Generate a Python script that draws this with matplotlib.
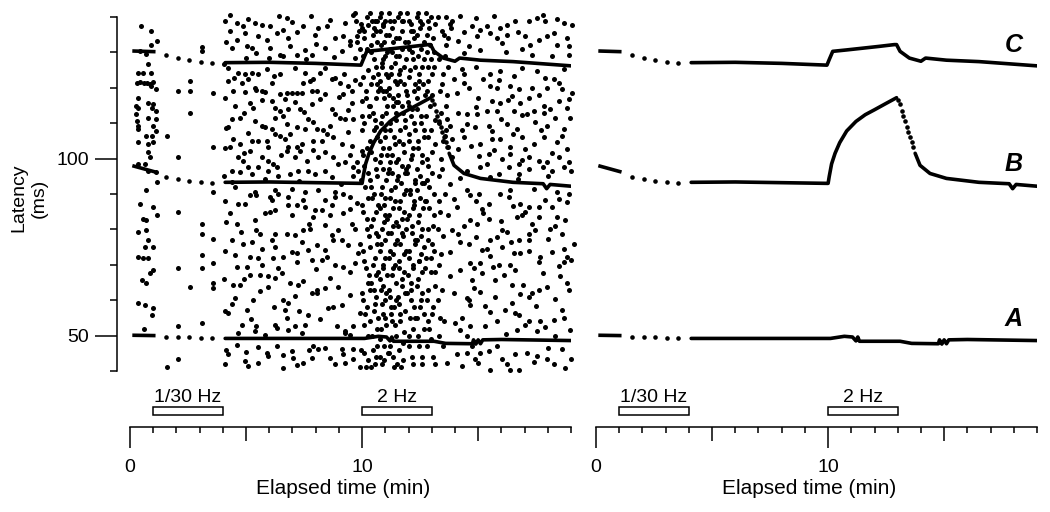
import matplotlib
matplotlib.use("Agg")
import matplotlib.pyplot as plt
from matplotlib.patches import Rectangle
from matplotlib.ticker import FixedLocator, MultipleLocator, NullFormatter

plt.rcParams['font.family'] = ['Liberation Sans', 'DejaVu Sans']

# ---- latency traces (min, ms) ----
start_t = [0.1, 1.1]
slow_t = [1.55, 2.05, 2.55, 3.05, 3.55]

a_start_ms = [50.1, 50.0]
a_slow_ms = [49.6, 49.5, 49.5, 49.4, 49.4]
a_t = [4.1, 10.1, 10.7, 11.05, 11.2, 11.28, 11.35, 13.1, 13.6, 14.75, 14.8, 14.9, 15.0, 15.1, 15.2, 16.0, 19.0]
a_ms = [49.2, 49.2, 49.8, 49.6, 48.5, 49.6, 48.4, 48.4, 47.8, 47.7, 48.8, 47.6, 48.8, 47.7, 48.8, 48.9, 48.6]

b_start_ms = [98.0, 96.2]
b_slow_ms = [94.7, 94.1, 93.8, 93.3, 93.1]
b_t = [4.1, 6.0, 8.0, 10.0, 10.05, 10.15, 10.3, 10.5, 10.8, 11.2, 11.6, 12.0, 12.5, 12.95]
b_ms = [93.3, 93.4, 93.2, 93.0, 95.0, 98.5, 101.5, 104.5, 107.8, 110.5, 112.4, 113.8, 115.6, 117.2]
b_decay_t = [13.03, 13.1, 13.17, 13.24, 13.32, 13.39, 13.46, 13.53, 13.6, 13.67]
b_decay_ms = [116.6, 115.4, 113.5, 112.1, 110.7, 108.8, 107.4, 106.0, 104.6, 103.2]
b_tail_t = [13.75, 13.96, 14.39, 15.1, 16.5, 17.8, 17.95, 18.1, 19.0]
b_tail_ms = [101.5, 98.1, 95.8, 94.4, 93.3, 92.9, 91.5, 92.7, 92.2]

c_start_ms = [130.4, 130.2]
c_slow_ms = [129.2, 128.4, 127.8, 127.2, 126.9]
c_t = [4.1, 6.0, 8.0, 9.95, 10.05, 10.2, 10.8, 11.5, 12.2, 12.85, 12.95, 13.1, 13.5, 14.0, 14.2, 15.1, 16.5, 19.0]
c_ms = [127.1, 127.2, 126.9, 126.4, 128.0, 130.3, 130.7, 131.2, 131.7, 132.2, 132.2, 130.3, 128.4, 127.5, 128.4, 127.8, 127.4, 126.2]

# ---- individual spike latencies (min, ms) ----
dots_first_min = [
    (0.47, 137.4), (0.9, 136), (1.17, 133.1), (0.9, 132.2), (0.78, 126.6), (0.35, 124.2), (0.57, 124.2),
    (0.9, 124.2), (0.9, 120.5), (1.1, 119.6), (0.35, 117.2), (0.28, 114.9), (0.35, 114.4), (0.78, 115.8),
    (1.0, 115.4), (0.93, 114.4), (1.1, 113.5), (0.28, 112.5), (0.78, 111.6), (1.1, 111.1), (0.35, 109.3),
    (0.35, 108.3), (1.0, 109.3), (0.71, 106.5), (1.1, 107.9), (0.93, 106.5), (0.35, 104.6), (0.78, 104.1),
    (1.0, 104.6), (0.78, 101.8), (0.85, 100.4), (0.35, 98.5), (0.64, 98.5), (0.78, 96.6), (1.1, 96.2),
    (1.17, 93.4), (0.71, 91.0), (0.42, 87.3), (1.0, 86.3), (1.17, 84.0), (0.57, 83.0), (0.71, 82.6),
    (0.35, 79.3), (0.71, 79.8), (0.78, 77.0), (1.0, 75.1), (0.64, 75.1), (0.35, 72.3), (0.57, 71.8),
    (0.78, 71.8), (1.0, 68.5), (0.85, 67.6), (0.5, 65.7), (0.71, 64.8), (0.35, 59.2), (0.64, 58.7),
    (1.0, 57.8), (0.93, 55.9), (0.3, 121.4), (0.45, 121.5), (0.6, 121.3), (0.75, 121.4), (0.85, 121.2),
    (1.0, 121.5), (0.45, 130.5), (0.7, 129.5), (0.6, 52.0), (0.3, 110.5),
]
dots_slow = [
    (1.58, 106.5), (1.58, 41.0), (2.08, 119.1), (2.08, 100.4), (2.08, 84.9), (2.08, 69.0), (2.08, 52.6),
    (2.08, 43.3), (2.59, 121.9), (2.59, 119.1), (2.59, 113.0), (2.59, 63.8), (3.09, 130.5), (3.09, 131.6),
    (3.09, 81.6), (3.09, 78.8), (3.09, 72.7), (3.09, 69.0), (3.09, 53.6), (3.59, 118.6), (3.59, 103.2),
    (3.59, 90.5), (3.59, 77.4), (3.59, 70.4), (3.59, 64.8), (3.59, 63.4),
]
dots_4_10_upper = [
    (4.1, 139), (4.15, 133), (4.05, 126.6), (4.1, 117), (4.15, 108.7), (4.1, 103), (4.05, 95),
    (4.59, 138.3), (4.88, 137.4), (5.38, 138.3), (5.67, 137.8), (6.03, 137.4), (6.75, 139.7), (7.47, 137.4),
    (8.11, 136.9), (9.26, 138.3), (9.98, 136.9), (10.27, 137.8), (10.63, 138.8), (10.91, 137.4),
    (4.31, 136.0), (4.95, 135.5), (5.53, 134.5), (6.32, 135.5), (6.6, 136.4), (6.82, 134.1), (7.97, 135.0),
    (8.83, 134.1), (9.19, 134.6), (9.48, 133.1),
    (4.38, 131.3), (5.02, 131.7), (5.24, 131.3), (5.45, 129.9), (6.03, 131.3), (6.46, 129.4), (6.6, 128.9),
    (7.18, 129.4), (7.54, 130.8), (7.83, 129.4), (8.4, 131.3), (9.12, 130.3), (9.48, 132.2), (9.69, 128.5),
    (4.23, 125.7), (4.66, 124.2), (4.95, 123.8), (5.24, 124.2), (5.53, 123.8), (5.89, 125.2), (6.46, 123.8),
    (7.11, 125.7), (7.54, 124.2), (8.18, 124.2), (8.4, 125.7), (8.83, 122.8),
    (4.23, 121.9), (4.81, 121.4), (5.1, 122.4), (5.38, 120.0), (5.67, 119.1), (6.1, 121.4), (6.75, 118.6),
    (7.18, 118.6), (7.47, 121.4), (7.75, 121.9), (8.04, 119.1), (8.69, 122.4), (9.05, 121.4), (9.41, 120.5),
    (9.55, 119.1), (4.45, 119.1), (4.95, 118.8), (5.45, 119.3), (5.81, 118.9), (6.1, 116.3), (6.46, 118.2),
    (6.68, 116.8), (6.96, 118.6), (7.39, 118.6), (7.83, 119.1), (8.4, 118.2), (9.19, 118.2),
    (4.52, 114.9), (5.17, 115.8), (5.31, 114.4), (6.25, 114.4), (6.46, 113.5), (6.82, 114.0), (7.32, 114.0),
    (7.83, 115.4), (8.69, 114.0), (8.83, 112.5), (9.55, 115.8), (9.98, 116.3),
    (4.38, 111.1), (4.74, 111.6), (5.38, 110.7), (5.67, 109.3), (6.25, 111.6), (6.75, 109.7), (7.18, 108.8),
    (7.68, 111.1), (7.9, 110.2), (8.04, 108.3), (8.62, 109.3), (9.05, 111.6), (9.26, 111.1), (9.62, 111.1),
    (9.98, 112.1), (4.23, 108.8), (5.81, 108.8), (6.1, 108.3), (7.54, 108.3),
    (4.31, 103.2), (4.45, 105.5), (4.74, 104.1), (5.24, 105.1), (5.53, 105.1), (5.89, 105.1), (5.96, 103.2),
    (6.25, 106.9), (6.46, 106.5), (6.68, 105.5), (6.82, 103.2), (7.18, 103.2), (7.39, 104.1), (7.9, 105.1),
    (8.26, 105.1), (8.47, 106.9), (8.76, 106.0), (9.12, 104.1), (9.55, 103.7), (9.98, 102.2),
    (4.66, 100.4), (4.88, 99.4), (5.17, 102.2), (5.67, 100.4), (5.96, 99.4), (6.17, 98.5), (6.32, 97.6),
    (6.75, 102.2), (7.11, 100.4), (7.32, 102.2), (7.61, 99.4), (8.11, 100.4), (8.4, 101.8), (8.76, 100.4),
    (8.98, 98.5), (9.26, 99.0), (9.62, 97.6), (9.77, 99.0), (5.1, 97.6), (5.53, 97.6),
    (4.38, 96.6), (4.74, 96.2), (5.24, 95.7), (5.96, 96.6), (6.39, 95.2), (6.89, 95.7), (7.25, 96.6),
    (7.68, 96.6), (7.97, 95.7), (8.4, 96.6), (8.69, 94.8), (9.62, 95.2), (9.84, 96.6),
    (4.52, 91.9), (5.38, 90.5), (6.25, 91.0), (6.96, 91.5), (7.54, 90.5), (8.11, 91.0), (8.83, 90.5),
    (4.3, 140.5), (5.1, 139.5), (6.4, 140.2), (7.0, 138.5), (7.8, 140.4), (8.6, 139.1), (9.6, 140.5),
    (8.5, 137.5), (7.2, 135.8), (5.9, 133.5), (4.6, 133.6), (8.0, 132.5), (9.8, 134.5), (6.9, 131.8),
    (5.0, 128.3), (6.0, 128.5), (7.6, 128.2), (8.8, 128.8), (4.5, 122.9), (6.2, 123.2), (7.9, 122.6),
    (9.2, 124.0), (9.7, 122.3), (5.7, 116.5), (7.1, 115.9), (8.2, 116.7), (9.0, 117.5), (4.9, 112.8),
    (6.6, 111.9), (7.5, 113.3), (9.4, 113.6), (5.1, 107.3), (6.9, 107.0), (8.3, 108.0), (9.4, 107.5),
    (4.9, 101.6), (6.5, 100.9), (7.9, 102.5), (9.5, 101.0), (4.4, 93.5), (5.8, 94.3), (7.3, 93.8), (9.1, 92.7),
]
dots_4_10_lower = [
    (4.1, 88), (4.15, 82), (4.1, 74), (4.05, 66), (4.1, 57), (4.15, 46), (4.1, 42),
    (5.17, 89.6), (5.45, 89.6), (6.03, 89.1), (6.39, 90.1), (6.82, 89.1), (7.47, 88.2), (8.4, 88.2),
    (8.83, 89.1), (9.19, 90.1), (9.48, 89.1), (4.66, 87.3),
    (4.95, 87.3), (5.81, 84.5), (6.03, 84.9), (6.25, 85.4), (6.82, 86.8), (7.54, 86.3), (7.97, 85.4),
    (8.26, 85.4), (8.69, 86.8), (9.19, 84.5), (9.48, 85.9), (6.96, 84.0), (7.9, 83.5),
    (4.59, 81.6), (5.45, 79.8), (5.6, 78.8), (6.25, 78.8), (6.75, 78.8), (7.11, 78.4), (7.47, 79.8),
    (7.75, 80.2), (8.4, 81.2), (8.98, 79.8), (9.55, 81.6), (9.69, 80.2), (4.38, 77.0), (4.88, 76.0),
    (5.24, 76.5), (5.67, 74.6), (6.25, 75.1), (6.96, 73.7), (7.18, 73.2), (7.68, 74.2), (8.04, 75.6),
    (8.4, 74.2), (8.76, 77.0), (9.12, 77.0), (9.84, 73.2), (4.52, 72.8), (5.17, 72.3), (5.53, 71.8),
    (6.17, 71.8), (6.6, 72.3), (7.18, 70.9), (7.83, 71.3), (8.26, 71.3), (8.47, 72.3), (8.83, 69.9),
    (9.19, 69.5), (9.48, 68.1), (4.59, 69.5), (5.02, 69.5), (6.39, 69.0), (6.53, 67.6),
    (5.17, 67.1), (5.6, 67.1), (5.96, 66.7), (6.25, 66.2), (5.96, 63.8), (7.25, 64.3), (7.47, 65.3),
    (8.04, 62.9), (8.4, 63.4), (8.98, 63.8), (4.45, 64.3), (4.74, 64.3),
    (4.52, 60.6), (5.31, 60.1), (6.6, 60.1), (6.82, 59.2), (7.83, 62.0), (8.04, 62.0), (8.54, 57.8),
    (8.76, 58.2), (9.12, 58.7), (6.68, 57.3), (5.02, 57.3),
    (4.23, 56.4), (6.75, 55.0), (7.68, 55.9), (7.54, 53.1), (7.11, 52.6), (6.25, 53.1), (6.32, 52.1),
    (4.81, 53.1), (5.45, 52.6), (9.62, 52.6), (9.26, 51.2),
    (4.66, 50.7), (5.38, 51.2), (5.81, 50.3), (7.39, 50.6), (9.26, 50.7), (9.48, 50.3),
    (4.23, 44.7), (4.95, 42.8), (5.1, 41.4), (5.53, 42.3), (5.89, 45.1), (5.96, 44.2), (6.6, 40.9),
    (6.96, 45.6), (7.03, 43.7), (7.9, 47.0), (8.11, 46.1), (8.4, 46.5), (9.12, 46.1), (9.19, 44.7),
    (8.83, 41.9), (9.26, 42.3), (9.62, 43.3), (7.83, 43.7), (7.47, 42.3), (6.32, 47.0),
    (6.1, 88.3), (7.2, 86.9), (8.6, 84.2), (9.8, 87.5), (4.3, 84.5), (5.4, 82.7), (7.7, 81.5), (8.7, 78.5),
    (4.8, 79.2), (6.1, 76.9), (9.4, 75.5), (7.4, 76.3), (5.7, 70.0), (8.0, 68.7), (9.7, 70.6), (4.9, 66.0),
    (6.9, 65.0), (8.6, 66.3), (5.6, 62.5), (7.1, 61.3), (9.5, 61.5), (4.4, 58.8), (6.2, 58.2), (7.3, 56.9),
    (9.9, 56.5), (5.2, 54.7), (8.2, 54.6), (8.9, 52.8), (6.8, 51.5), (4.6, 47.3), (5.5, 46.7), (6.6, 44.6),
    (7.7, 45.9), (8.6, 43.6), (9.6, 46.3), (5.0, 45.3), (7.2, 41.6), (9.9, 41.2),
]
dots_2hz = [
    (9.75, 139), (9.85, 136), (9.8, 133), (9.9, 131), (9.7, 141),
    (9.95, 138), (10.1, 134), (10.2, 140), (10.05, 129), (10.25, 125), (9.9, 121), (10.15, 117), (10.3, 112),
    (10.0, 108), (10.2, 103), (10.1, 98), (9.95, 94), (10.25, 89), (10.05, 85), (10.2, 80), (9.9, 76),
    (10.1, 71), (10.3, 67), (10.0, 62), (10.2, 58), (10.1, 53), (9.95, 46), (10.25, 43), (10.15, 41),
    (10.08, 136), (10.22, 131), (10.02, 123), (10.18, 119), (10.28, 115), (10.1, 110), (10.05, 101),
    (10.25, 96), (10.12, 92), (10.0, 87), (10.2, 83), (10.28, 78), (10.06, 74), (10.16, 69), (10.24, 65),
    (10.04, 60), (10.14, 56), (10.26, 50), (10.1, 45),
    (10.35, 141), (10.5, 137), (10.65, 133), (10.4, 130), (10.6, 126), (10.45, 123), (10.7, 119),
    (10.35, 115), (10.55, 111), (10.65, 106), (10.4, 102), (10.6, 97), (10.35, 94), (10.5, 90), (10.7, 87),
    (10.45, 83), (10.6, 79), (10.35, 75), (10.55, 72), (10.7, 68), (10.4, 65), (10.6, 61), (10.5, 57),
    (10.35, 54), (10.65, 52), (10.45, 46), (10.6, 44), (10.4, 41), (10.55, 139), (10.45, 135), (10.65, 121),
    (10.5, 108), (10.4, 92), (10.7, 78), (10.5, 63), (10.65, 47),
    (10.42, 139), (10.62, 136), (10.38, 132), (10.52, 128), (10.68, 124), (10.38, 121), (10.58, 117),
    (10.48, 113), (10.62, 109), (10.36, 105), (10.54, 100), (10.66, 95), (10.44, 89), (10.58, 85),
    (10.38, 81), (10.66, 76), (10.48, 70), (10.6, 67), (10.36, 63), (10.54, 59), (10.68, 55), (10.44, 50),
    (10.56, 42),
    (10.75, 140), (10.9, 138), (11.05, 135), (10.8, 132), (11.0, 129), (10.85, 126), (11.1, 123),
    (10.75, 120), (10.95, 117), (11.05, 113), (10.8, 110), (11.0, 106), (10.9, 103), (10.75, 99), (11.1, 96),
    (10.85, 92), (11.0, 89), (10.75, 86), (10.95, 82), (11.1, 79), (10.8, 76), (11.0, 72), (10.9, 69),
    (10.75, 66), (11.05, 62), (10.85, 59), (11.0, 55), (10.8, 52), (10.95, 47), (11.1, 45), (10.85, 42),
    (10.9, 128), (11.05, 119), (10.8, 101), (11.0, 84), (10.9, 64), (10.75, 44),
    (10.82, 141), (10.98, 139), (10.78, 136), (10.94, 133), (11.08, 130), (10.84, 127), (11.02, 124),
    (10.78, 122), (10.92, 119), (11.06, 115), (10.86, 112), (10.98, 108), (10.76, 105), (11.08, 101),
    (10.88, 97), (11.02, 94), (10.8, 90), (10.96, 87), (11.08, 83), (10.84, 80), (11.0, 77), (10.78, 74),
    (10.92, 70), (11.06, 67), (10.82, 63), (10.98, 60), (10.88, 56), (11.04, 53), (10.78, 49), (10.96, 43),
    (11.15, 141), (11.3, 137), (11.45, 134), (11.2, 131), (11.4, 127), (11.25, 124), (11.5, 121),
    (11.15, 118), (11.35, 115), (11.45, 111), (11.2, 108), (11.4, 104), (11.3, 101), (11.15, 97), (11.5, 94),
    (11.25, 91), (11.4, 88), (11.15, 84), (11.35, 81), (11.5, 77), (11.2, 74), (11.4, 70), (11.3, 67),
    (11.15, 63), (11.45, 60), (11.25, 56), (11.4, 53), (11.2, 47), (11.35, 44), (11.5, 42), (11.3, 130),
    (11.45, 116), (11.2, 99), (11.35, 73), (11.25, 58),
    (11.22, 139), (11.38, 139), (11.18, 135), (11.34, 133), (11.48, 129), (11.24, 126), (11.42, 122),
    (11.16, 120), (11.32, 117), (11.46, 113), (11.22, 110), (11.36, 106), (11.16, 103), (11.48, 99),
    (11.28, 96), (11.42, 92), (11.2, 89), (11.34, 86), (11.48, 82), (11.24, 79), (11.4, 76), (11.18, 72),
    (11.32, 69), (11.46, 65), (11.22, 61), (11.38, 58), (11.28, 54), (11.44, 50), (11.18, 45), (11.36, 41),
    (11.55, 140), (11.7, 136), (11.85, 133), (11.6, 129), (11.8, 126), (11.65, 122), (11.9, 119),
    (11.55, 116), (11.75, 113), (11.85, 109), (11.6, 105), (11.8, 102), (11.7, 98), (11.55, 95), (11.9, 91),
    (11.65, 88), (11.8, 85), (11.55, 81), (11.75, 78), (11.9, 74), (11.6, 71), (11.8, 68), (11.7, 64),
    (11.55, 61), (11.85, 57), (11.65, 54), (11.8, 51), (11.6, 46), (11.75, 43), (11.7, 139), (11.6, 124),
    (11.85, 96), (11.7, 79), (11.6, 59),
    (11.62, 141), (11.78, 139), (11.58, 134), (11.74, 131), (11.88, 128), (11.64, 125), (11.82, 121),
    (11.56, 118), (11.72, 115), (11.86, 111), (11.62, 108), (11.76, 104), (11.56, 100), (11.88, 97),
    (11.68, 93), (11.82, 90), (11.6, 86), (11.74, 83), (11.88, 80), (11.64, 76), (11.8, 73), (11.58, 69),
    (11.72, 66), (11.86, 62), (11.62, 56), (11.78, 48), (11.68, 41),
    (11.95, 141), (12.1, 138), (12.25, 134), (12.0, 131), (12.2, 128), (12.05, 125), (12.3, 121),
    (11.95, 118), (12.15, 114), (12.25, 110), (12.0, 107), (12.2, 103), (12.1, 100), (11.95, 96), (12.3, 93),
    (12.05, 90), (12.2, 86), (11.95, 83), (12.15, 79), (12.3, 76), (12.0, 72), (12.2, 69), (12.1, 65),
    (11.95, 62), (12.25, 58), (12.05, 55), (12.2, 52), (12.0, 47), (12.15, 44), (12.1, 136), (12.0, 115),
    (12.25, 88), (12.1, 60),
    (12.02, 139), (12.18, 136), (11.98, 133), (12.14, 130), (12.28, 126), (12.04, 123), (12.22, 119),
    (11.96, 116), (12.12, 112), (12.26, 108), (12.02, 105), (12.16, 101), (11.96, 98), (12.28, 94),
    (12.08, 91), (12.22, 87), (12.0, 84), (12.14, 81), (12.28, 77), (12.04, 74), (12.2, 70), (11.98, 67),
    (12.12, 63), (12.26, 55), (12.02, 50), (12.18, 42),
    (12.35, 140), (12.5, 137), (12.65, 133), (12.4, 129), (12.6, 126), (12.45, 122), (12.7, 118),
    (12.35, 114), (12.55, 110), (12.65, 106), (12.4, 103), (12.6, 99), (12.5, 95), (12.35, 91), (12.7, 88),
    (12.45, 84), (12.6, 80), (12.35, 77), (12.55, 73), (12.7, 69), (12.4, 66), (12.6, 62), (12.5, 58),
    (12.35, 55), (12.65, 52), (12.45, 47), (12.6, 44), (12.5, 139), (12.4, 120), (12.6, 93), (12.45, 71),
    (12.42, 141), (12.58, 138), (12.38, 135), (12.54, 131), (12.68, 128), (12.44, 124), (12.62, 121),
    (12.36, 117), (12.52, 112), (12.66, 108), (12.42, 105), (12.56, 101), (12.36, 97), (12.68, 93),
    (12.48, 89), (12.62, 86), (12.4, 82), (12.54, 78), (12.68, 75), (12.44, 71), (12.6, 68), (12.38, 64),
    (12.52, 60), (12.66, 56), (12.42, 50), (12.56, 42),
    (12.75, 141), (12.9, 137), (13.05, 134), (12.8, 130), (13.1, 126), (12.85, 122), (13.0, 118),
    (12.75, 112), (12.95, 108), (13.15, 104), (12.8, 100), (13.0, 96), (12.9, 92), (12.75, 88), (13.1, 84),
    (12.85, 80), (13.0, 76), (12.75, 72), (12.95, 68), (13.15, 64), (12.8, 60), (13.0, 56), (12.9, 52),
    (12.8, 47), (13.05, 44), (12.95, 128), (12.85, 98), (13.1, 74),
    (12.82, 139), (12.98, 140), (13.12, 138), (12.78, 135), (12.94, 132), (13.08, 130), (12.84, 126),
    (13.02, 124), (12.78, 119), (12.92, 115), (13.12, 111), (12.86, 106), (13.02, 102), (12.8, 94),
    (13.08, 90), (12.88, 86), (13.04, 81), (12.82, 77), (12.96, 72), (13.12, 68), (12.86, 63), (13.04, 58),
    (12.82, 54), (12.98, 49), (13.14, 42),
    (13.25, 140), (13.45, 136), (13.6, 132), (13.3, 128), (13.5, 124), (13.35, 119), (13.6, 115),
    (13.3, 110), (13.5, 105), (13.4, 100), (13.3, 95), (13.55, 90), (13.35, 85), (13.5, 78), (13.3, 70),
    (13.45, 63), (13.35, 55), (13.5, 47),
    (13.62, 140), (13.78, 138), (13.7, 134), (13.85, 137), (13.55, 129), (13.72, 126), (13.45, 121),
    (13.65, 118), (13.4, 113), (13.6, 108), (13.45, 97), (13.3, 88), (13.25, 80), (13.4, 73), (13.25, 60),
    (13.3, 50),
]
dots_13_19_upper = [
    (13.87, 138.8), (14.73, 137.4), (15.09, 136.4), (15.38, 137.4), (15.95, 136.9), (16.24, 137.8),
    (17.17, 138.8), (17.53, 139.7), (17.89, 138.8), (18.68, 138.3), (19.04, 137.8),
    (13.51, 135.0), (14.15, 133.1), (14.95, 134.5), (15.52, 135.5), (16.02, 132.7), (16.24, 135.0),
    (17.03, 134.5), (17.96, 134.5), (18.25, 135.5), (18.82, 134.1), (17.24, 132.2), (18.39, 132.2),
    (14.37, 129.9), (15.09, 130.8), (17.31, 129.4), (18.18, 128.9), (18.9, 129.4),
    (14.3, 125.2), (14.37, 123.8), (15.23, 122.4), (15.52, 123.8), (15.95, 124.7), (16.53, 123.3),
    (17.53, 124.7), (18.25, 122.4), (18.68, 125.2), (13.94, 122.4), (14.37, 121.4), (14.59, 120.0),
    (15.52, 120.5), (15.81, 120.0), (16.38, 120.5), (16.74, 119.6), (17.31, 120.0), (17.96, 120.0),
    (18.61, 119.6), (19.04, 118.6), (15.59, 116.3), (15.95, 115.8), (16.45, 117.7), (16.81, 115.8),
    (17.17, 117.2), (17.82, 114.9), (18.47, 116.3), (18.82, 114.4),
    (14.15, 113.0), (14.51, 112.5), (14.95, 112.5), (15.38, 113.5), (15.81, 113.5), (16.53, 113.5),
    (17.1, 112.5), (17.39, 113.5), (17.82, 113.0), (18.32, 111.6), (18.97, 111.6), (13.65, 111.1),
    (14.51, 109.7), (14.87, 108.8), (15.45, 109.3), (16.24, 109.7), (16.67, 108.3), (17.46, 110.2),
    (17.96, 109.3), (18.68, 108.3), (13.8, 109.3),
    (13.58, 106.5), (13.87, 105.5), (14.37, 106.0), (15.09, 104.1), (15.59, 107.9), (15.95, 105.5),
    (16.38, 103.2), (16.88, 106.0), (17.39, 104.1), (17.82, 106.0), (18.39, 104.6), (18.82, 102.7),
    (13.72, 103.2), (14.15, 102.7), (15.02, 100.8), (15.45, 101.3), (16.02, 99.9), (16.38, 101.3),
    (16.74, 98.5), (17.17, 100.4), (17.6, 99.4), (17.96, 99.0), (18.47, 100.4), (18.9, 99.0),
    (13.87, 100.4), (14.51, 96.6), (15.09, 97.6), (15.88, 95.7), (16.31, 97.6), (16.74, 95.7),
    (17.17, 97.1), (18.18, 96.6), (18.68, 97.6),
    (13.8, 92.9), (14.51, 91.0), (15.02, 90.1), (16.38, 91.0), (17.39, 91.5), (18.39, 90.5),
    (14.2, 140.4), (14.9, 139.6), (15.7, 140.3), (16.6, 139.0), (17.8, 140.6), (18.4, 139.4), (14.4, 135.7),
    (15.8, 134.2), (16.7, 135.9), (17.6, 133.4), (18.9, 131.8), (14.6, 131.9), (16.2, 130.2), (16.9, 131.0),
    (14.9, 125.8), (15.9, 122.3), (16.9, 125.5), (17.9, 122.9), (18.5, 121.4), (14.1, 118.6), (15.0, 117.2),
    (16.3, 116.5), (17.6, 117.9), (18.9, 116.9), (14.9, 114.5), (16.0, 111.2), (16.9, 112.3), (18.1, 113.9),
    (14.3, 108.0), (15.6, 105.6), (16.5, 106.9), (17.7, 108.2), (18.6, 106.3), (14.7, 103.5), (15.7, 102.4),
    (17.0, 102.6), (18.2, 101.6), (15.4, 98.6), (16.9, 99.5), (17.8, 97.5), (19.0, 96.4), (14.2, 94.6),
    (15.5, 94.9), (16.7, 94.3), (18.0, 95.2),
]
dots_13_19_lower = [
    (13.94, 88.7), (14.66, 89.6), (15.16, 85.9), (15.45, 87.3), (15.95, 90.1), (16.31, 89.1), (16.81, 87.3),
    (17.17, 86.3), (17.6, 86.3), (18.18, 86.3), (18.47, 88.7), (18.82, 87.7), (14.08, 86.3),
    (13.72, 84.0), (14.66, 82.6), (14.95, 81.6), (15.45, 83.0), (16.02, 79.8), (16.67, 83.5), (16.88, 84.0),
    (17.03, 84.9), (17.6, 83.5), (18.11, 80.2), (18.39, 83.5), (18.75, 82.6), (13.87, 79.8), (14.15, 78.8),
    (15.52, 77.0), (15.81, 77.9), (16.24, 79.3), (16.74, 77.0), (17.17, 78.8), (17.46, 79.8), (18.61, 78.8),
    (14.23, 76.5), (14.59, 76.0), (15.16, 74.2), (15.38, 74.6), (16.02, 75.1), (16.53, 73.2), (16.81, 73.2),
    (17.17, 77.0), (17.67, 72.3), (18.18, 73.7), (18.68, 74.6), (18.82, 72.3), (19.11, 76.0), (13.8, 73.7),
    (14.66, 70.4), (14.8, 69.0), (15.09, 70.4), (15.66, 69.5), (15.88, 69.9), (16.38, 69.9), (16.6, 68.5),
    (17.6, 70.9), (18.68, 70.9),
    (14.73, 65.7), (15.16, 67.6), (15.74, 65.7), (16.45, 64.3), (16.95, 64.3), (17.17, 61.0), (17.31, 62.0),
    (17.6, 62.9), (17.96, 63.8), (18.54, 66.7), (18.82, 64.8), (18.9, 62.9), (13.8, 66.7), (13.94, 62.0),
    (14.51, 60.6), (15.09, 62.4), (15.74, 61.0), (16.45, 59.2),
    (14.66, 58.7), (14.59, 60.1), (14.3, 55.0), (15.52, 56.8), (16.17, 57.3), (16.6, 56.4), (16.74, 55.9),
    (17.03, 53.1), (17.17, 54.0), (17.67, 54.0), (18.25, 54.5), (18.68, 55.0), (18.97, 51.7), (14.01, 53.6),
    (14.66, 52.6), (15.3, 52.6), (13.51, 54.0), (14.23, 51.7), (16.67, 51.7), (17.53, 51.2),
    (14.51, 45.1), (14.73, 47.0), (15.09, 45.1), (15.45, 45.6), (15.81, 47.0), (16.02, 43.3), (16.24, 41.9),
    (16.38, 40.4), (16.74, 40.4), (17.1, 45.1), (17.53, 44.2), (17.96, 43.3), (18.25, 41.9), (18.75, 40.9),
    (14.08, 44.7), (13.65, 42.3), (15.52, 40.4), (14.87, 43.3),
    (14.9, 88.0), (16.5, 86.5), (17.9, 88.4), (18.9, 89.9), (15.2, 84.5), (17.3, 81.6), (18.3, 81.1),
    (14.4, 80.9), (16.0, 82.4), (14.9, 77.9), (16.4, 76.3), (18.0, 77.4), (15.5, 72.4), (17.2, 73.9),
    (19.0, 71.3), (14.2, 68.5), (16.1, 67.1), (17.8, 67.7), (18.5, 69.6), (14.8, 63.5), (16.8, 61.7),
    (18.3, 60.2), (15.3, 58.4), (17.5, 58.5), (18.6, 57.2), (15.8, 54.2), (17.9, 52.5), (14.5, 49.9),
    (16.2, 50.5), (18.3, 49.9), (15.0, 42.2), (16.6, 44.7), (17.4, 42.5), (18.6, 46.2), (14.3, 41.3),
    (18.0, 46.6), (19.0, 43.5),
]

stim_periods = [(1, 4), (10, 13)]
stim_labels = ['1/30 Hz', '2 Hz']
x_major = [0, 10]
x_mid = [5, 15]
x_minor = [1, 2, 3, 4, 6, 7, 8, 9, 11, 12, 13, 14, 16, 17, 18, 19]
trace_names = ['A', 'B', 'C']
name_ms = [54.6, 98.4, 132.0]

W, H = 1050, 512


def box(x0, y0, x1, y1):
    return [x0 / W, 1 - y1 / H, (x1 - x0) / W, (y1 - y0) / H]


def draw_traces(ax):
    lw = 2.6
    dot = dict(ls='none', marker='o', ms=3.3, mew=0, color='black', clip_on=False)
    for s_ms, sl_ms, tt, mm in [(a_start_ms, a_slow_ms, a_t, a_ms),
                                (b_start_ms, b_slow_ms, b_t, b_ms),
                                (c_start_ms, c_slow_ms, c_t, c_ms)]:
        ax.plot(start_t, s_ms, color='black', lw=lw, solid_capstyle='butt')
        ax.plot(slow_t, sl_ms, **dot)
        ax.plot(tt, mm, color='black', lw=lw, solid_capstyle='round', solid_joinstyle='round')
    ax.plot(b_decay_t, b_decay_ms, **dot)
    ax.plot(b_tail_t, b_tail_ms, color='black', lw=lw, solid_capstyle='round')


def time_axis(ax):
    ax.set_xlim(0, 19)
    ax.set_ylim(0, 1)
    for s in ['top', 'right', 'left']:
        ax.spines[s].set_visible(False)
    ax.spines['bottom'].set_linewidth(1.1)
    ax.yaxis.set_visible(False)
    ax.xaxis.set_major_locator(FixedLocator(x_major))
    ax.xaxis.set_minor_locator(FixedLocator(x_minor))
    ax.xaxis.set_minor_formatter(NullFormatter())
    ax.tick_params(axis='x', which='major', length=15, width=1.1, pad=8, labelsize=14)
    ax.tick_params(axis='x', which='minor', length=4.6, width=1.1)
    sec = ax.secondary_xaxis('bottom')
    sec.set_xticks(x_mid)
    sec.set_xticklabels([])
    sec.tick_params(length=10, width=1.1)
    sec.spines['bottom'].set_visible(False)
    for (t0, t1), lab in zip(stim_periods, stim_labels):
        ax.add_patch(Rectangle((t0, 0.28), t1 - t0, 0.2, facecolor='white',
                               edgecolor='black', lw=1.1, clip_on=False))
        ax.text((t0 + t1) / 2, 0.6, lab, ha='center', va='baseline', fontsize=14)
    ax.set_xlabel('Elapsed time (min)', fontsize=15)
    ax.xaxis.set_label_coords(9.2 / 19, -1.25)
    ax.xaxis.label.set_va('top')


fig = plt.figure(figsize=(10.5, 5.12), dpi=100)
ax_l = fig.add_axes(box(130, 17, 571, 371))
ax_r = fig.add_axes(box(596, 17, 1037, 371))
tx_l = fig.add_axes(box(130, 385, 571, 427))
tx_r = fig.add_axes(box(596, 385, 1037, 427))

all_dots = (dots_first_min + dots_slow + dots_4_10_upper + dots_4_10_lower
            + dots_2hz + dots_13_19_upper + dots_13_19_lower)
dot_t = [p[0] for p in all_dots]
dot_ms = [p[1] for p in all_dots]
ax_l.scatter(dot_t, dot_ms, s=13, c='black', linewidths=0, clip_on=False)
draw_traces(ax_l)
draw_traces(ax_r)

for ax in (ax_l, ax_r):
    ax.set_xlim(0, 19)
    ax.set_ylim(40, 140)
    ax.xaxis.set_visible(False)
    for s in ['top', 'right', 'bottom']:
        ax.spines[s].set_visible(False)

ax_r.spines['left'].set_visible(False)
ax_r.yaxis.set_visible(False)
for name, y in zip(trace_names, name_ms):
    ax_r.text(18.0, y, name, fontsize=18, fontweight='bold', style='italic',
              ha='center', va='center')

ax_l.spines['left'].set_position(('outward', 9.4))
ax_l.spines['left'].set_linewidth(1.1)
ax_l.yaxis.set_major_locator(FixedLocator([50, 100]))
ax_l.yaxis.set_minor_locator(MultipleLocator(10))
ax_l.tick_params(axis='y', which='major', length=15.8, width=1.1, pad=4, labelsize=14)
ax_l.tick_params(axis='y', which='minor', length=5, width=1.1)

fig.text(29 / W, 1 - 198 / H, 'Latency\n(ms)', rotation=90, ha='center', va='center',
         fontsize=14, multialignment='center', linespacing=1.3)

time_axis(tx_l)
time_axis(tx_r)

fig.savefig('out.png', dpi=100)
